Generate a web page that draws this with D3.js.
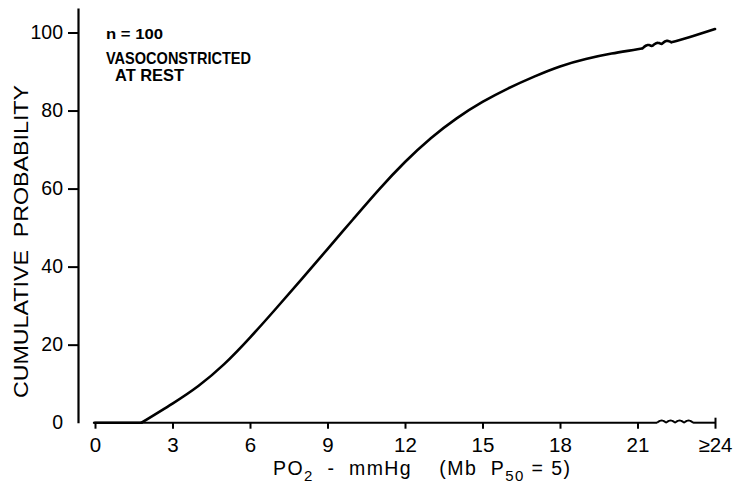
<!DOCTYPE html>
<html>
<head>
<meta charset="utf-8">
<script src="https://cdn.jsdelivr.net/npm/d3@7"></script>
<style>
  html, body { margin: 0; padding: 0; background: #fff; }
  svg { display: block; }
  text { font-family: "Liberation Sans", Arial, sans-serif; fill: #000; }
</style>
</head>
<body>
<script>
// ---- data ----
const po2 = [0, 1.8, 3, 4, 5, 6, 7, 8, 9, 10, 11, 12, 13, 14, 15, 16, 17, 18, 19, 20, 21, 22, 23, 24];
const cumProb = [0, 0, 4.9, 9.4, 15.0, 21.8, 29.2, 36.8, 44.5, 52.2, 59.8, 66.8, 72.9, 78.0, 82.2, 85.7, 88.7, 91.3, 93.2, 94.6, 95.7, 97.0, 98.8, 100.9];
const xTickValues = [0, 3, 6, 9, 12, 15, 18, 21, 24];
const xTickLabels = ["0", "3", "6", "9", "12", "15", "18", "21", "\u226524"];
const yTickValues = [0, 20, 40, 60, 80, 100];
const annotation = ["n = 100", "VASOCONSTRICTED", "AT REST"];
const curveBreak = [21.2, 22.3];   // axis-break squiggle on the curve
const axisBreak = [21.76, 23.15];  // axis-break squiggle on the x axis

const W = 735, H = 489;
const svg = d3.select("body").append("svg").attr("width", W).attr("height", H);

const x = d3.scaleLinear().domain([0, 24]).range([95, 715]);
const y = d3.scaleLinear().domain([0, 100]).range([422.7, 32.5]);
const yAxisX = 78;
const yTop = 106.3;

const data = po2.map((v, i) => ({ x: v, y: cumProb[i] }));
function interpY(v) {
  for (let i = 1; i < data.length; i++) {
    if (v <= data[i].x) {
      const a = data[i - 1], b = data[i];
      return a.y + (b.y - a.y) * (v - a.x) / (b.x - a.x);
    }
  }
  return data[data.length - 1].y;
}
// squiggle between two pixel points
function squiggle(x0, y0, x1, y1, humps, amp) {
  const pts = [];
  const n = 40;
  for (let i = 0; i <= n; i++) {
    const t = i / n;
    pts.push([x0 + (x1 - x0) * t, y0 + (y1 - y0) * t - amp * Math.abs(Math.sin(Math.PI * humps * t))]);
  }
  return d3.line().curve(d3.curveBasis)(pts);
}

// ---- y axis ----
const yAxisScale = d3.scaleLinear().domain([0, yTop]).range([y(0), y(yTop)]);
const yAxis = d3.axisLeft(yAxisScale).tickValues(yTickValues).tickSize(10).tickSizeOuter(0).tickPadding(5).tickFormat(d3.format("d"));
const gy = svg.append("g").attr("transform", `translate(${yAxisX},0)`).call(yAxis);
gy.select(".domain").attr("stroke", "#000").attr("stroke-width", 2.2);
gy.selectAll(".tick line").attr("stroke", "#000").attr("stroke-width", 2)
  .filter(d => d === 0).remove();
gy.selectAll(".tick text").attr("font-size", 19.5).attr("fill", "#000").attr("font-family", "Liberation Sans, Arial, sans-serif");

// ---- x axis ----
const xAxis = d3.axisBottom(x).tickValues(xTickValues).tickSize(6).tickPadding(9)
  .tickFormat((d, i) => xTickLabels[i]);
const gx = svg.append("g").attr("transform", `translate(0,${y(0)})`).call(xAxis);
gx.select(".domain").remove();
gx.selectAll(".tick line").attr("stroke", "#000").attr("stroke-width", 2);
gx.selectAll(".tick text").attr("font-size", 20.5).attr("fill", "#000").attr("font-family", "Liberation Sans, Arial, sans-serif");
gx.selectAll(".tick line").filter(d => d === 24).attr("y1", -5).attr("y2", 6);

// x axis line with break squiggle
const axisG = svg.append("g").attr("stroke", "#000").attr("stroke-width", 2).attr("fill", "none");
axisG.append("line").attr("x1", x(-0.08)).attr("x2", x(axisBreak[0])).attr("y1", y(0)).attr("y2", y(0));
axisG.append("path").attr("d", squiggle(x(axisBreak[0]), y(0), x(axisBreak[1]), y(0), 4, 2.2));
axisG.append("line").attr("x1", x(axisBreak[1])).attr("x2", x(24)).attr("y1", y(0)).attr("y2", y(0));

// ---- curve ----
const clip = svg.append("clipPath").attr("id", "curveClip");
clip.append("rect").attr("x", 0).attr("y", 0).attr("width", x(curveBreak[0])).attr("height", H);
clip.append("rect").attr("x", x(curveBreak[1])).attr("y", 0).attr("width", W - x(curveBreak[1])).attr("height", H);

const lastZero = d3.max(data.filter(d => d.y === 0), d => d.x);
const flatPart = data.filter(d => d.x <= lastZero);
const risePart = data.filter(d => d.x >= lastZero);

const straight = d3.line().x(d => x(d.x)).y(d => y(d.y));
const smooth = d3.line().x(d => x(d.x)).y(d => y(d.y)).curve(d3.curveNatural);
const curveG = svg.append("g").attr("fill", "none").attr("stroke", "#000").attr("stroke-width", 2.6).attr("stroke-linecap", "round");
curveG.append("path").datum(flatPart).attr("d", straight);
curveG.append("path").datum(risePart).attr("d", smooth).attr("clip-path", "url(#curveClip)");
curveG.append("path")
  .attr("d", squiggle(x(curveBreak[0]), y(interpY(curveBreak[0])), x(curveBreak[1]), y(interpY(curveBreak[1])), 3, 2.2));

// ---- annotation ----
const ann = svg.append("g").attr("font-weight", "bold");
ann.append("text").attr("x", 106).attr("y", 39).attr("font-size", 15).attr("textLength", 57).attr("lengthAdjust", "spacingAndGlyphs").attr("xml:space", "preserve").text(annotation[0]);
ann.append("text").attr("x", 106).attr("y", 64).attr("font-size", 16.5).attr("textLength", 145).attr("lengthAdjust", "spacingAndGlyphs").text(annotation[1]);
ann.append("text").attr("x", 115).attr("y", 81).attr("font-size", 16.5).attr("textLength", 69).attr("lengthAdjust", "spacingAndGlyphs").attr("xml:space", "preserve").text(annotation[2]);

// ---- axis titles ----
svg.append("text")
  .attr("transform", "translate(28,398) rotate(-90)")
  .attr("x", 0).attr("y", 0)
  .attr("font-size", 20).attr("textLength", 313).attr("lengthAdjust", "spacingAndGlyphs")
  .attr("xml:space", "preserve")
  .text("CUMULATIVE  PROBABILITY");

const xt = svg.append("text").attr("x", 273).attr("y", 475).attr("font-size", 19.5)
  .attr("textLength", 297).attr("lengthAdjust", "spacing")
  .attr("xml:space", "preserve");
xt.append("tspan").text("PO");
xt.append("tspan").attr("font-size", 15).attr("dy", 6).text("2");
xt.append("tspan").attr("dy", -6).text("  -  mmHg    (Mb  P");
xt.append("tspan").attr("font-size", 15).attr("dy", 6).text("50");
xt.append("tspan").attr("dy", -6).text(" = 5)");
</script>
</body>
</html>
